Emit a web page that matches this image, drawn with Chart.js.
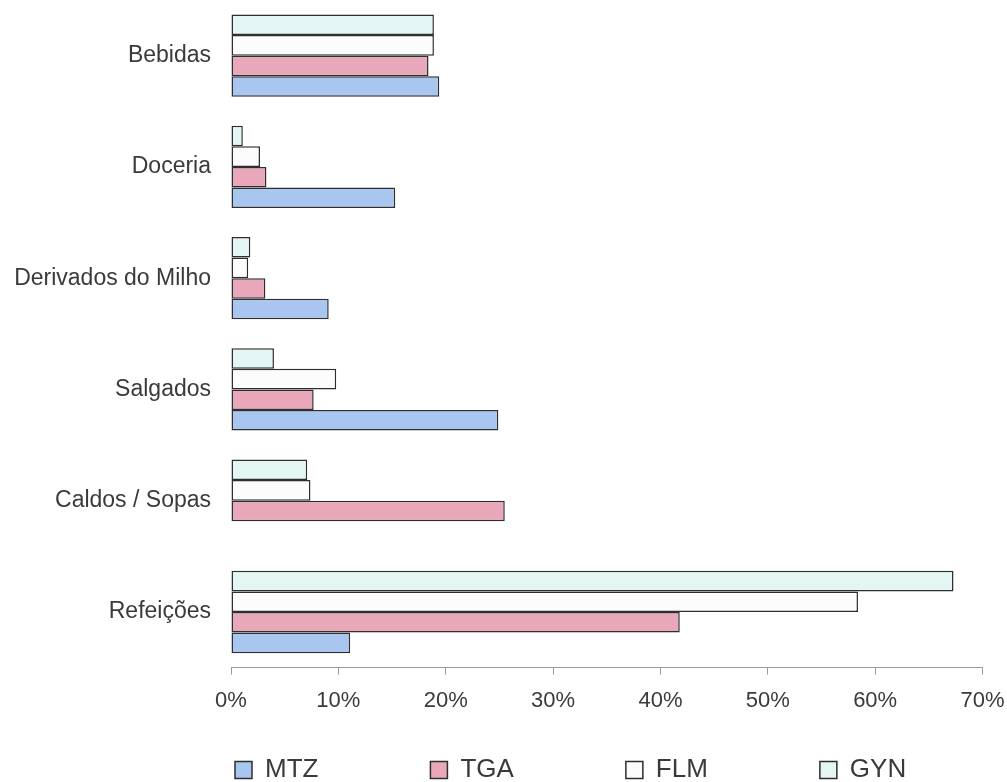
<!DOCTYPE html>
<html>
<head>
<meta charset="utf-8">
<script src="https://cdn.jsdelivr.net/npm/chart.js@4.4.1/dist/chart.umd.min.js"></script>
<style>
  html, body { margin: 0; padding: 0; background: #ffffff; }
  #wrap { width: 1007px; height: 782px; }
</style>
</head>
<body>
<div id="wrap"><canvas id="c" width="1007" height="782"></canvas></div>
<script>
const categories = ['Bebidas', 'Doceria', 'Derivados do Milho', 'Salgados', 'Caldos / Sopas', 'Refeições'];
const mtz = [19.4, 15.3, 9.1, 24.9, null, 11.1];
const tga = [18.4, 3.3, 3.2, 7.7, 25.5, 41.8];
const flm = [18.9, 2.7, 1.6, 9.8, 7.4, 58.4];
const gyn = [18.9, 1.1, 1.8, 4.0, 7.1, 67.3];
const xTickValues = [0, 10, 20, 30, 40, 50, 60, 70];

const FONT = '"Liberation Sans", Arial, sans-serif';
const TEXT = '#3a3a3a';
const EDGE = '#2e2e2e';

// place the legend row (start-aligned) at the reference position
const legendPlacer = {
  id: 'legendPlacer',
  afterLayout(chart) {
    const lg = chart.legend;
    if (!lg) return;
    const pad = lg.options.labels.padding;
    lg.left = 235 - pad;
    lg.right = lg.left + 3000;
    lg.top = 757 - pad;
    lg.bottom = 800;
  }
};

function ds(label, data, color) {
  return {
    label: label,
    data: data,
    backgroundColor: color,
    borderColor: EDGE,
    borderWidth: 1.5,
    borderSkipped: false,
    categoryPercentage: 0.74,
    barPercentage: 1.0
  };
}

new Chart(document.getElementById('c'), {
  type: 'bar',
  data: {
    labels: categories,
    datasets: [
      ds('GYN', gyn, '#e4f6f3'),
      ds('FLM', flm, '#fcfcfc'),
      ds('TGA', tga, '#e8a8b9'),
      ds('MTZ', mtz, '#a8c6ef')
    ]
  },
  options: {
    indexAxis: 'y',
    responsive: false,
    animation: false,
    layout: { padding: { left: 0, right: 0, top: 0, bottom: 0 } },
    plugins: {
      tooltip: { enabled: false },
      legend: {
        position: 'bottom',
        align: 'start',
        reverse: true,
        maxHeight: 55,
        labels: {
          boxWidth: 17,
          boxHeight: 17,
          padding: 112,
          color: TEXT,
          font: { family: FONT, size: 26 }
        }
      }
    },
    scales: {
      x: {
        min: 0,
        max: 70,
        afterBuildTicks: (scale) => { scale.ticks = xTickValues.map(v => ({ value: v })); },
        afterFit: (scale) => {
          scale.paddingLeft = 0;
          scale.paddingRight = 24.5;
        },
        ticks: {
          callback: (v) => v + '%',
          color: TEXT,
          padding: 13,
          maxRotation: 0,
          font: { family: FONT, size: 22 }
        },
        grid: {
          display: true,
          drawOnChartArea: false,
          drawTicks: true,
          tickLength: 7,
          color: '#9a9a9a',
          lineWidth: 1
        },
        border: { display: true, color: '#9a9a9a', width: 1 }
      },
      y: {
        afterFit: (scale) => {
          scale.width = 231;
          scale.paddingTop = 0;
          scale.paddingBottom = 0;
        },
        ticks: {
          color: TEXT,
          padding: 20,
          font: { family: FONT, size: 23 }
        },
        grid: { display: false, drawTicks: false },
        border: { display: false }
      }
    }
  },
  plugins: [legendPlacer]
});
</script>
</body>
</html>
